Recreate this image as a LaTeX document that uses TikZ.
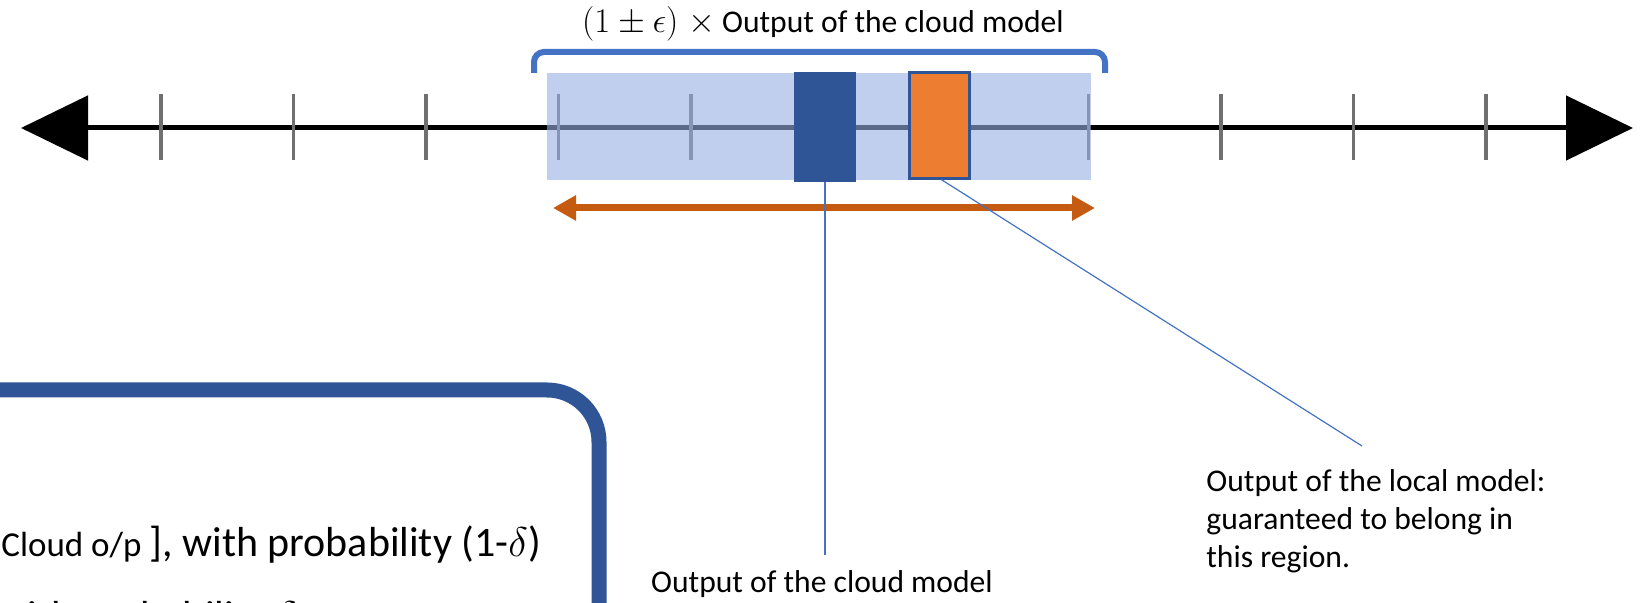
\documentclass[tikz,border=0pt]{standalone}
\usepackage{fontspec}
\setmainfont{Carlito}
\usetikzlibrary{arrows.meta}
\definecolor{darkblue}{HTML}{2F5597}
\definecolor{midblue}{HTML}{4472C4}
\definecolor{orangefill}{HTML}{ED7D31}
\definecolor{rustorange}{HTML}{C55A11}
\definecolor{bandblue}{RGB}{150,175,225}
\definecolor{tickgray}{HTML}{707070}
\tikzset{
  axisline/.style={line width=2.5pt, black,
    {Triangle[length=33.5pt,width=32pt]}-{Triangle[length=33.5pt,width=32pt]}},
  tickmark/.style={line width=1.9pt, tickgray},
  band/.style={fill=bandblue, fill opacity=0.6, draw=none, inner sep=0,
    minimum width=272pt, minimum height=53.5pt},
  cloudbox/.style={fill=darkblue, draw=none, inner sep=0,
    minimum width=31pt, minimum height=55pt},
  localbox/.style={fill=orangefill, draw=darkblue, line width=1.2pt, inner sep=0,
    minimum width=30pt, minimum height=53pt},
  bracketline/.style={line width=3pt, midblue, rounded corners=5pt},
  rangearrow/.style={line width=3.5pt, rustorange,
    {Triangle[length=11.5pt,width=12pt]}-{Triangle[length=11.5pt,width=12pt]}},
  leader/.style={line width=0.6pt, midblue},
  frame/.style={line width=7.5pt, darkblue, rounded corners=26pt},
  lbl/.style={inner sep=0, font=\fontsize{15.8}{19}\selectfont},
  biglbl/.style={inner sep=0, font=\fontsize{21}{25}\selectfont}
}
\begin{document}
\begin{tikzpicture}[x=0.5pt,y=-0.5pt]
\useasboundingbox (0,0) rectangle (1650,603);
\clip (0,0) rectangle (1650,603);

% number line with its tick marks
\coordinate (axL) at (21,128);
\coordinate (axR) at (1633,128);
\draw[axisline] (axL) -- (axR);
\foreach \k in {0,...,10} {
  \coordinate (tk\k) at ({161+132.5*\k},128);
  \draw[tickmark] ([yshift=17pt]tk\k) -- ([yshift=-16pt]tk\k);
}

% tolerance band, cloud output and local output
\node[band] (band) at (819,126.5) {};
\node[cloudbox] (cloud) at (825,127) {};
\node[localbox] (local) at (939.5,125.5) {};

% bracket over the band
\coordinate (brL) at (534,73);
\coordinate (brR) at (1105,73);
\draw[bracketline] (brL) -- (534,52) -- (1105,52) -- (brR);
\node[lbl, anchor=base] (epslbl) at (823,33)
  {{\fontsize{17}{19}\selectfont$(1\pm\epsilon)\;\times$} Output of the cloud model};

% double arrow marking the allowed range
\coordinate (rgL) at (553,208);
\coordinate (rgR) at (1095,208);
\draw[rangearrow] (rgL) -- (rgR);

% labels and leader lines
\node[lbl, anchor=base] (cloudlbl) at (822,593) {Output of the cloud model};
\node[lbl, anchor=base west] (locl1) at (1206,492) {Output of the local model:};
\node[lbl, anchor=base west] (locl2) at (1206,530) {guaranteed to belong in};
\node[lbl, anchor=base west] (locl3) at (1206,568) {this region.};
\coordinate (cloudend) at (825,555);
\coordinate (localend) at (1362,446);
\draw[leader] (cloud.south) -- (cloudend);
\draw[leader] ([xshift=1pt]local.south) -- (localend);

% framed statement box
\draw[frame] (-80,390) -- (599,390) -- (599,700);
\node[inner sep=0, anchor=base west] (prob1) at (1,557)
  {{\fontsize{17.5}{21}\selectfont Cloud o/p }{\fontsize{21}{25}\selectfont ], with probability (1-$\delta$)}};
\node[biglbl, anchor=base west] (prob2) at (-3,631) {with probability $\delta$};
\end{tikzpicture}
\end{document}
